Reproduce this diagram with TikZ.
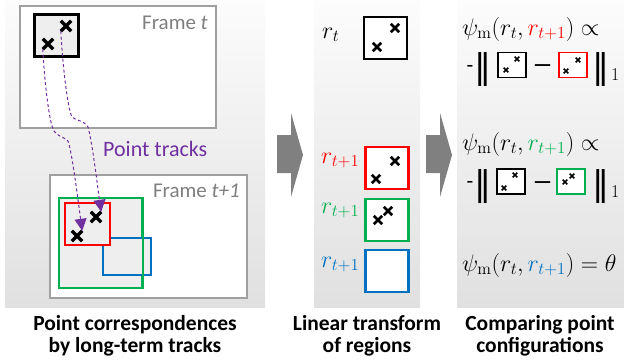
\RequirePackage{fix-cm}
\documentclass[tikz,border=0pt]{standalone}
\usepackage[no-math]{fontspec}
\setmainfont{Carlito}
\newfontfamily\djv{DejaVu Sans}
\usetikzlibrary{shapes.misc,arrows.meta}
\definecolor{pptred}{HTML}{FF0000}
\definecolor{pptgreen}{HTML}{00B050}
\definecolor{pptblue}{HTML}{0070C0}
\definecolor{pptpurple}{HTML}{7030A0}
\definecolor{framegray}{HTML}{A0A0A0}
\definecolor{textgray}{HTML}{7F7F7F}
\definecolor{arrowgray}{HTML}{808080}
\definecolor{boxfill}{HTML}{EEEEEE}
\definecolor{paneltop}{HTML}{FCFCFC}
\definecolor{panelbot}{HTML}{E0E0E0}
\tikzset{
  panel/.style={top color=paneltop, bottom color=panelbot, draw=none},
  framebox/.style={draw=framegray, line width=1.2pt, fill=white, rectangle, inner sep=0pt},
  framelabel/.style={text=textgray, inner sep=0pt, font=\fontsize{21}{24}\selectfont},
  bigx/.style={cross out, draw=black, line width=3.4pt, minimum size=7pt, inner sep=0pt},
  midx/.style={cross out, draw=black, line width=2.8pt, minimum size=5.5pt, inner sep=0pt},
  tinyx/.style={cross out, draw=black, line width=1.7pt, minimum size=3pt, inner sep=0pt},
  regbox/.style={rectangle, draw, inner sep=0pt, line width=2.4pt, fill=white,
                 minimum width=43pt, minimum height=42pt},
  leftbox/.style={rectangle, draw, inner sep=0pt, line width=2pt, fill=boxfill},
  smallbox/.style={rectangle, draw, inner sep=0pt, line width=1.7pt, fill=white,
                   minimum width=28pt, minimum height=25pt},
  track/.style={draw=pptpurple, line width=1pt, dash pattern=on 3pt off 2.5pt,
                -{Triangle[width=12pt,length=12pt,fill=pptpurple]}},
  caption/.style={inner sep=0pt, anchor=base, font=\bfseries\fontsize{21.5}{24}\selectfont},
  mathlbl/.style={inner sep=0pt, anchor=base west, font=\fontsize{24}{28}\selectfont},
  rowtxt/.style={inner sep=0pt, anchor=base, font=\fontsize{22}{26}\selectfont},
  barstxt/.style={inner sep=0pt, anchor=base, font=\djv\fontsize{34}{38}\selectfont},
  subone/.style={inner sep=0pt, anchor=base west, font=\fontsize{18}{20}\selectfont},
}
\begin{document}
\begin{tikzpicture}[x=1pt,y=-1pt]
\useasboundingbox (0,0) rectangle (624,360);
% panels
\shade[panel] (5,0) rectangle (265,307);
\shade[panel] (314,0) rectangle (420,307);
\shade[panel] (457,0) rectangle (624,307);
% block arrows
\fill[arrowgray] (277,135) -- (291,135) -- (291,113) -- (303,155) -- (291,197) -- (291,173) -- (277,173) -- cycle;
\fill[arrowgray] (426,135) -- (440,135) -- (440,113) -- (452,155) -- (440,197) -- (440,173) -- (426,173) -- cycle;

% ---------- left panel ----------
\node[framebox, minimum width=196pt, minimum height=122pt] (ft) at (118,67) {};
\node[framelabel, anchor=base east] (ftl) at (208,29) {Frame \textit{t}};
\node[leftbox, draw=black, line width=2.6pt, minimum width=44pt, minimum height=42pt] (rt0) at (56.5,35.5) {};
\node[bigx] (a1) at (66,26) {};
\node[bigx] (a2) at (48,44) {};

\node[framebox, minimum width=197pt, minimum height=123pt] (ft1) at (148.5,236.5) {};
\node[framelabel, anchor=base east] (ft1l) at (240,197) {Frame \textit{t+1}};
\node[leftbox, draw=pptgreen, minimum width=83pt, minimum height=90pt] (g0) at (100.5,243) {};
\node[leftbox, draw=pptblue, minimum width=48pt, minimum height=37pt] (b0) at (127,256.5) {};
\draw[pptgreen, line width=2pt] (g0.north east) -- (g0.south east);
\node[leftbox, draw=pptred, minimum width=45pt, minimum height=42pt] (r0) at (87.5,224) {};
\node[bigx] (b1) at (96,217) {};
\node[bigx] (b2) at (77,236) {};

\draw[track] (a2.south west) .. controls (45,90) and (50,125) .. (54,131)
   .. controls (57,136) and (64,137) .. (68,141)
   .. controls (72,152) and (78,200) .. (b2.north east);
\draw[track] (a1.south west) .. controls (63,70) and (68,110) .. (72,117)
   .. controls (76,121) and (84,120) .. (88,127)
   .. controls (92,140) and (98,190) .. (b1.north east);
\node[inner sep=0pt, anchor=base west, text=pptpurple, font=\fontsize{22}{26}\selectfont] (pt) at (103,156) {Point tracks};

\node[caption] (c1a) at (135,330) {Point correspondences};
\node[caption] (c1b) at (135,352) {by long-term tracks};

% ---------- middle panel ----------
\node[mathlbl] (lt) at (322,38) {$r_t$};
\node[regbox, draw=black] (m0) at (385.5,38) {};
\node[midx] (m0a) at (395,28) {};
\node[midx] (m0b) at (377,47) {};

\node[mathlbl, text=pptred] (lr) at (321,163) {$r_{t+1}$};
\node[regbox, draw=pptred] (m1) at (387,168) {};
\node[midx] (m1a) at (395,161) {};
\node[midx] (m1b) at (376,179) {};

\node[mathlbl, text=pptgreen] (lg) at (321,213) {$r_{t+1}$};
\node[regbox, draw=pptgreen] (m2) at (387,220) {};
\node[midx] (m2a) at (378,220) {};
\node[midx] (m2b) at (388,211) {};

\node[mathlbl, text=pptblue] (lb) at (321,267) {$r_{t+1}$};
\node[regbox, draw=pptblue] (m3) at (387,271) {};

\node[caption] (c2a) at (367,330) {Linear transform};
\node[caption] (c2b) at (367,352) {of regions};

% ---------- right panel ----------
\node[mathlbl] (f1) at (462,35) {$\psi_{\mathrm{m}}(r_t,\textcolor{pptred}{r_{t+1}})\propto$};
\node[rowtxt] (h1) at (470,72) {-};
\node[barstxt] (n1) at (482.5,78) {‖};
\node[smallbox, draw=black] (s1) at (512,65) {};
\node[tinyx] (s1a) at (517,59) {};
\node[tinyx] (s1b) at (506,70) {};
\node[rowtxt, font=\bfseries\fontsize{21}{24}\selectfont] (d1) at (542.5,71.5) {—};
\node[smallbox, draw=pptred] (s2) at (573,65) {};
\node[tinyx] (s2a) at (578,60) {};
\node[tinyx] (s2b) at (566,71) {};
\node[barstxt] (n2) at (601,78) {‖};
\node[subone] (o1) at (611,80) {$1$};

\node[mathlbl] (f2) at (462,150) {$\psi_{\mathrm{m}}(r_t,\textcolor{pptgreen}{r_{t+1}})\propto$};
\node[rowtxt] (h2) at (470,188.5) {-};
\node[barstxt] (n3) at (482.5,195) {‖};
\node[smallbox, draw=black] (s3) at (511,181.5) {};
\node[tinyx] (s3a) at (515,175) {};
\node[tinyx] (s3b) at (504,188) {};
\node[rowtxt, font=\bfseries\fontsize{21}{24}\selectfont] (d2) at (542.5,188) {—};
\node[smallbox, draw=pptgreen] (s4) at (571,181.5) {};
\node[tinyx] (s4a) at (565,182) {};
\node[tinyx] (s4b) at (572,176) {};
\node[barstxt] (n4) at (600.5,195) {‖};
\node[subone] (o2) at (611,197) {$1$};

\node[mathlbl] (f3) at (462,271) {$\psi_{\mathrm{m}}(r_t,\textcolor{pptblue}{r_{t+1}})=\theta$};

\node[caption] (c3a) at (540,330) {Comparing point};
\node[caption] (c3b) at (540,352) {configurations};
\end{tikzpicture}
\end{document}
